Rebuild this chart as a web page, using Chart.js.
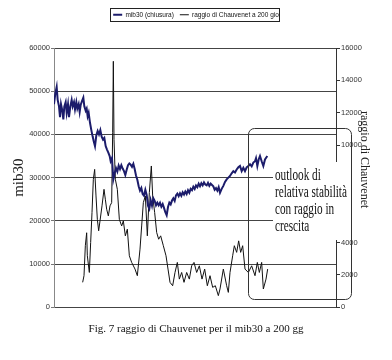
<!DOCTYPE html>
<html>
<head>
<meta charset="utf-8">
<script src="https://cdn.jsdelivr.net/npm/chart.js@4/dist/chart.umd.min.js"></script>
<style>
  body { margin: 0; background: #fff; }
  #box { width: 392px; height: 360px; }
</style>
</head>
<body>
<div id="box"><canvas id="grafico"></canvas></div>
<script>
// giorni di borsa (indice) e chiusure del mib30
const giorniMib = [0, 4, 8, 11, 15, 18, 21, 25, 28, 31, 35, 38, 42, 45, 49, 53, 56, 60, 63, 67,
    70, 74, 77, 80, 84, 88, 91, 95, 98, 101, 104, 108, 112, 116, 119, 123, 127, 131, 135, 139,
    143, 147, 151, 155, 159, 163, 167, 170, 174, 178, 182, 186, 190, 194, 198, 202, 206, 210, 214, 218,
    222, 226, 230, 234, 238, 242, 246, 250, 254, 258, 262, 266, 270, 274, 278, 282, 286, 290, 294, 298,
    302, 306, 310, 314, 318, 322, 326, 330, 334, 338, 342, 346, 350, 354, 358, 362, 366, 370, 374, 378,
    382, 386, 390, 394, 398, 402, 406, 410, 414, 418, 422, 426, 430, 434, 438, 442, 446, 450, 454, 458,
    462, 466, 470, 474, 478, 482, 486, 490, 494, 498, 503, 508, 513, 518, 523, 528, 533, 538, 543, 548,
    553, 558, 563, 568, 573, 578, 583, 588, 593, 598, 603, 606, 610, 614, 618, 623, 628, 633, 640];
const mib30 = [47000, 49500, 51000, 48000, 46500, 44000, 47000, 45500, 43500, 46500, 47500, 45000, 47000, 44000, 46500, 48000, 46500, 47500, 45800, 47500,
    46000, 47000, 45200, 46800, 47700, 48500, 46500, 45500, 46000, 44200, 45000, 42700, 41000, 39500, 38500, 37300, 39800, 40800, 40000, 41000,
    39500, 38800, 39200, 37300, 36500, 35800, 35000, 33800, 34500, 29600, 31000, 32200, 31400, 32800, 32000, 32900, 32100, 31500, 30600, 31800,
    32900, 33300, 33000, 32500, 33200, 32000, 30500, 29500, 28000, 27000, 27600, 26200, 25800, 27200, 26000, 23500, 22800, 24800, 23500, 25200,
    24600, 23600, 24200, 23600, 24200, 23300, 23900, 23000, 22000, 21300, 23200, 24200, 23800, 24700, 25200, 24600, 25900, 26300, 25700, 26400,
    25800, 26600, 26100, 26800, 26200, 27100, 26500, 27400, 27100, 27900, 27400, 28200, 27800, 28600, 28000, 28700, 28200, 28900, 28400, 28200,
    28800, 28100, 28600, 28300, 28000, 27200, 27600, 27000, 27800, 26500, 27400, 28100, 29000, 29600, 30000, 30400, 31000, 31500, 31200, 31900,
    32400, 32700, 31500, 32300, 31500, 32400, 32700, 33100, 32600, 33500, 33800, 34500, 32700, 34200, 35000, 33800, 32700, 34200, 35000];

// raggio di Chauvenet a 200 giorni
const giorniRaggio = [86, 90, 94, 98, 100, 106, 110, 114, 118, 122, 126, 130, 134, 138, 144, 150, 154, 158, 163, 168,
    173, 176, 178, 180, 184, 190, 196, 203, 208, 214, 220, 226, 233, 243, 250, 258, 263, 268, 274, 280,
    286, 292, 296, 302, 308, 314, 320, 328, 336, 342, 348, 356, 363, 370, 376, 383, 390, 398, 406, 413,
    420, 428, 436, 444, 452, 460, 468, 476, 484, 493, 498, 508, 518, 523, 528, 536, 541, 548, 554, 560,
    566, 573, 583, 593, 603, 610, 616, 623, 628, 636, 641];
const raggio = [1540, 1950, 3800, 4600, 3180, 2150, 4000, 5850, 7900, 8510, 6870, 5430, 4720, 5330, 6260, 7280, 6670, 6050, 5640, 6260,
    6460, 10770, 15180, 10360, 7900, 7280, 5430, 5020, 5330, 4410, 4820, 3180, 2770, 2360, 1950, 3590, 5020, 6460, 6870, 4410,
    7080, 8720, 6870, 5850, 4620, 4200, 4410, 3800, 3180, 2360, 1540, 1330, 2150, 2770, 1740, 2150, 1540, 2150, 1740, 2560,
    2770, 2150, 2560, 1740, 2360, 1330, 1950, 1230, 1330, 720, 1130, 2360, 1330, 920, 2150, 3180, 3800, 3390, 4100, 3390,
    3800, 2360, 2150, 2560, 1950, 2770, 2150, 2770, 1130, 1740, 2360];

const etichette = ['mib30 (chiusura)', 'raggio di Chauvenet a 200 gio'];
const didascalia = 'Fig. 7 raggio di Chauvenet per il mib30 a 200 gg';
const nota = ['outlook di', 'relativa stabilità', 'con raggio in', 'crescita'];

Chart.defaults.font.family = "'Liberation Sans', Arial, sans-serif";

// spazio tra legenda e grafico
const spazioLegenda = {
    id: 'spazioLegenda',
    beforeInit(chart) {
        if (!chart.legend) return;
        const fit = chart.legend.fit;
        chart.legend.fit = function () {
            fit.call(this);
            this.height += 20;
        };
    }
};

// cornice della legenda e riquadro di commento
const riquadri = {
    id: 'riquadri',
    afterDraw(chart) {
        const ctx = chart.ctx;
        const boxes = chart.legend.legendHitBoxes;
        ctx.save();
        if (boxes && boxes.length) {
            const first = boxes[0], last = boxes[boxes.length - 1];
            ctx.strokeStyle = '#222';
            ctx.lineWidth = 1;
            ctx.strokeRect(Math.round(first.left) - 2.5, 8.5, Math.round(last.left + last.width - first.left) + 3, 13);
        }

        // area bianca del testo
        ctx.fillStyle = '#fff';
        ctx.fillRect(273, 162, 86, 78);

        ctx.strokeStyle = '#333';
        ctx.lineWidth = 1;
        ctx.beginPath();
        ctx.roundRect(248.5, 128.5, 103, 171, 6);
        ctx.stroke();

        ctx.fillStyle = '#111';
        ctx.font = "17px 'Liberation Serif', 'Times New Roman', serif";
        ctx.textBaseline = 'alphabetic';
        nota.forEach((riga, i) => {
            ctx.save();
            ctx.translate(275, 180 + i * 17);
            ctx.scale(0.66, 1);
            ctx.fillText(riga, 0, 0);
            ctx.restore();
        });
        ctx.restore();
    }
};

new Chart(document.getElementById('grafico'), {
    type: 'line',
    data: {
        datasets: [{
            label: etichette[0],
            data: giorniMib.map((g, i) => ({ x: g, y: mib30[i] })),
            borderColor: '#1c1c6b',
            borderWidth: 2,
            pointRadius: 0,
            yAxisID: 'y'
        }, {
            label: etichette[1],
            data: giorniRaggio.map((g, i) => ({ x: g, y: raggio[i] })),
            borderColor: '#111',
            borderWidth: 1,
            pointRadius: 0,
            yAxisID: 'y1'
        }]
    },
    options: {
        responsive: true,
        maintainAspectRatio: false,
        animation: false,
        layout: { padding: { top: 5.5, left: 0, right: 0, bottom: 13.5 } },
        scales: {
            x: { type: 'linear', min: 0, max: 846, display: false },
            y: {
                position: 'left',
                min: 0,
                max: 60000,
                ticks: {
                    stepSize: 10000,
                    padding: 1,
                    color: '#333',
                    font: { size: 7.5 },
                    callback: v => String(v)
                },
                grid: { color: '#444', tickLength: 3, tickColor: '#777' },
                border: { color: '#888' },
                title: {
                    display: true,
                    text: 'mib30',
                    color: '#222',
                    font: { family: "'Liberation Serif', serif", size: 15 },
                    padding: { top: 10.5, bottom: 0 }
                },
                afterFit: s => { s.width = 54; }
            },
            y1: {
                position: 'right',
                min: 0,
                max: 16000,
                ticks: {
                    stepSize: 2000,
                    padding: 1,
                    color: '#333',
                    font: { size: 7.5 },
                    callback: v => String(v)
                },
                grid: { drawOnChartArea: false, tickLength: 4, tickColor: '#333' },
                border: { color: '#333' },
                title: {
                    display: true,
                    text: 'raggio di Chauvenet\u2003\u2003\u2003',
                    color: '#222',
                    font: { family: "'Liberation Serif', serif", size: 12 },
                    padding: { top: 21, bottom: 0 }
                },
                afterFit: s => { s.width = 56; }
            }
        },
        plugins: {
            legend: {
                position: 'top',
                labels: {
                    usePointStyle: true,
                    pointStyle: 'line',
                    pointStyleWidth: 9,
                    padding: 6,
                    color: '#111',
                    font: { size: 6.5 }
                }
            },
            title: {
                display: true,
                position: 'bottom',
                text: didascalia,
                color: '#111',
                font: { family: "'Liberation Serif', serif", size: 11, weight: 'normal' },
                padding: { top: 15, bottom: 11 }
            },
            tooltip: { enabled: false }
        }
    },
    plugins: [spazioLegenda, riquadri]
});
</script>
</body>
</html>
